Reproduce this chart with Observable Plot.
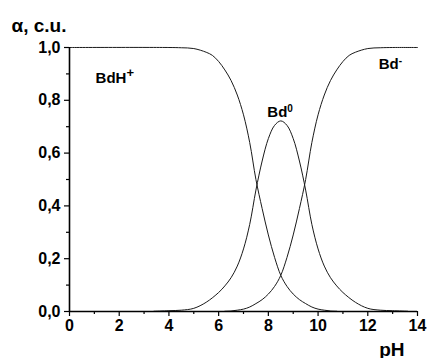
<!DOCTYPE html>
<html><head><meta charset="utf-8">
<script src="https://cdn.jsdelivr.net/npm/d3@7"></script>
<script src="https://cdn.jsdelivr.net/npm/@observablehq/plot@0.6"></script>
<style>
body{margin:0;background:#fff;}
#chart svg{display:block;}
</style></head><body><div id="chart"></div>
<script>
// BdH+ fraction
const pHBdH = [0, 4, 4.5, 5, 5.5, 5.75, 6, 6.25, 6.5, 6.75, 7, 7.25, 7.5, 7.75, 8, 8.25, 8.5, 8.75, 9, 9.25, 9.5, 9.75, 10, 10.25, 10.5, 10.75];
const aBdH  = [1, 1, 0.999, 0.996, 0.982, 0.97, 0.947, 0.915, 0.875, 0.82, 0.745, 0.64, 0.50, 0.39, 0.29, 0.205, 0.137, 0.095, 0.066, 0.045, 0.03, 0.017, 0.009, 0.005, 0.002, 0.001];
// Bd0 fraction
const pHBd0 = [3.4, 4, 4.5, 5, 5.5, 6, 6.25, 6.5, 6.75, 7, 7.25, 7.5, 7.75, 8, 8.25, 8.5, 8.75, 9, 9.25, 9.5, 9.75, 10, 10.25, 10.5, 10.75, 11, 11.5, 12, 12.5, 13, 13.6];
const aBd0  = [0.001, 0.003, 0.005, 0.012, 0.035, 0.072, 0.097, 0.128, 0.172, 0.237, 0.33, 0.46, 0.57, 0.655, 0.705, 0.722, 0.705, 0.655, 0.57, 0.46, 0.33, 0.237, 0.172, 0.128, 0.097, 0.072, 0.035, 0.012, 0.005, 0.003, 0.001];
// Bd- fraction
const pHBdm = [6.25, 6.5, 6.75, 7, 7.25, 7.5, 7.75, 8, 8.25, 8.5, 8.75, 9, 9.25, 9.5, 9.75, 10, 10.25, 10.5, 10.75, 11, 11.25, 11.5, 12, 12.5, 13, 14];
const aBdm  = [0.001, 0.002, 0.005, 0.009, 0.017, 0.03, 0.045, 0.066, 0.095, 0.137, 0.205, 0.29, 0.39, 0.50, 0.64, 0.745, 0.82, 0.875, 0.915, 0.947, 0.97, 0.982, 0.996, 0.999, 1, 1];

const speciesBase = ["BdH", "Bd", "Bd"];
const speciesSup = ["+", "0", "-"];
const labelPH = [1.05, 7.96, 12.44];
const labelAlpha = [0.866, 0.737, 0.919];

const xMajor = [0, 2, 4, 6, 8, 10, 12, 14];
const xMinor = [1, 3, 5, 7, 9, 11, 13];
const yMajor = [0, 0.2, 0.4, 0.6, 0.8, 1.0];
const yMinor = [0.1, 0.3, 0.5, 0.7, 0.9];
const yTitle = "α, c.u.";
const xTitle = "pH";

const rows = [];
pHBdH.forEach((p, i) => rows.push({s: "BdH+", pH: p, a: aBdH[i]}));
pHBd0.forEach((p, i) => rows.push({s: "Bd0", pH: p, a: aBd0[i]}));
pHBdm.forEach((p, i) => rows.push({s: "Bd-", pH: p, a: aBdm[i]}));
const labels = speciesBase.map((b, i) => ({b, sup: speciesSup[i], x: labelPH[i], y: labelAlpha[i]}));

const fmt = d => d.toFixed(1).replace(".", ",");
const font = "'Liberation Sans', Arial, sans-serif";

const plot = Plot.plot({
  width: 427, height: 358,
  marginLeft: 69, marginRight: 10, marginTop: 47, marginBottom: 47,
  x: {domain: [0, 14], label: null},
  y: {domain: [0, 1], label: null},
  style: {fontFamily: font, fontWeight: "bold", color: "#000", background: "#fff", overflow: "visible"},
  marks: [
    Plot.axisX(xMajor, {tickSize: 5, tickPadding: 3, fontSize: 16, label: null, tickFormat: d => String(d), strokeWidth: 1.2}),
    Plot.axisX(xMinor, {tickSize: 3, label: null, tickFormat: () => "", strokeWidth: 1.2}),
    Plot.axisY(yMajor, {tickSize: 5, tickPadding: 4, fontSize: 16, label: null, tickFormat: fmt, strokeWidth: 1.2}),
    Plot.axisY(yMinor, {tickSize: 3, label: null, tickFormat: () => "", strokeWidth: 1.2}),
    Plot.line(rows, {x: "pH", y: "a", z: "s", stroke: "#1a1a1a", strokeWidth: 1, curve: "catmull-rom"}),
    Plot.ruleY([0], {stroke: "#000", strokeWidth: 1.6}),
    Plot.ruleX([0], {stroke: "#000", strokeWidth: 1.6}),
    Plot.text(labels, {x: "x", y: "y", text: "b", textAnchor: "start", lineAnchor: "bottom", fontSize: 15, fontWeight: "bold", fill: "#000"}),
    Plot.text([yTitle], {text: d => d, frameAnchor: "top-left", dx: -58, dy: -16, textAnchor: "start", lineAnchor: "bottom", fontSize: 19, fontWeight: "bold", fill: "#000"}),
    Plot.text([xTitle], {text: d => d, frameAnchor: "bottom-right", dx: -13, dy: 44, textAnchor: "end", lineAnchor: "bottom", fontSize: 19, fontWeight: "bold", fill: "#000"})
  ]
});

// add superscripts to species labels (first text group = species labels)
const svg = d3.select(plot);
const speciesGroup = svg.selectAll('g[aria-label="text"]').nodes()[0];
d3.select(speciesGroup).selectAll("text").each(function(d, j) {
  const l = labels[j];
  if (!l) return;
  const el = d3.select(this);
  el.text(null);
  el.append("tspan").text(l.b);
  el.append("tspan").attr("dy", "-0.45em").attr("font-size", l.sup === "+" ? 13 : 10).text(l.sup);
});

document.getElementById("chart").appendChild(plot);
</script></body></html>
